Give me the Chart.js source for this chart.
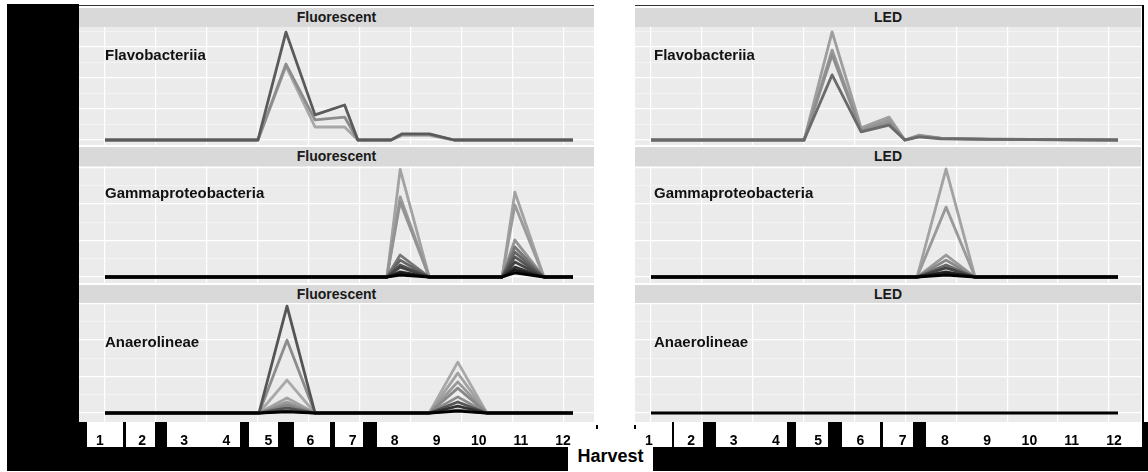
<!DOCTYPE html>
<html lang="en">
<head>
<meta charset="UTF-8">
<title>Harvest profiles</title>
<script src="https://cdn.jsdelivr.net/npm/chart.js"></script>
<style>
  body { margin: 0; width: 1148px; height: 472px; background: #fff; position: relative; overflow: hidden;
         font-family: "Liberation Sans", Arial, sans-serif; }
  .blk { position: absolute; background: #000; }
  .wht { position: absolute; background: #fff; }
  .strip { position: absolute; background: #d9d9d9; color: #1a1a1a; font-weight: bold; font-size: 14px;
           text-align: center; }
  .tag { position: absolute; font-weight: bold; font-size: 15px; line-height: 16px; color: #111; white-space: nowrap; }
  .panel { position: absolute; }
</style>
</head>
<body>
<script>
  // ---- data: sampling day (x) and relative abundance (y), one array per OTU line ----
  const harvests = [1, 2, 3, 4, 5, 6, 7, 8, 9, 10, 11, 12];

  const flFlavoDays = [0, 30, 35.5, 41.2, 47, 49.6, 56.1, 58.3, 63.6, 68.5, 91.8];
  const flFlavo = [
    [0, 0, 23.8, 4.2, 4.2, 0, 0, 1.5, 1.5, 0, 0],
    [0, 0, 24.5, 6.5, 7.4, 0, 0, 1.8, 1.8, 0, 0],
    [0, 0, 34.8, 8.1, 11.3, 0, 0, 2.0, 2.0, 0, 0]
  ];

  const ledFlavoDays = [0, 30.1, 35.6, 41.3, 46.8, 49.9, 52.7, 57, 66.4, 91.8];
  const ledFlavo = [
    [0, 0, 34.9, 3.9, 7.4, 0, 1.6, 0.6, 0.3, 0],
    [0, 0, 29.0, 3.2, 6.5, 0, 1.4, 0.5, 0.3, 0],
    [0, 0, 27.4, 2.9, 5.5, 0, 1.2, 0.5, 0.2, 0],
    [0, 0, 21.0, 2.6, 4.8, 0, 1.0, 0.4, 0.2, 0]
  ];

  const flGammaDays = [0, 55.3, 57.9, 63.6, 77.9, 80.4, 86.1, 91.8];
  const flGamma = [
    [0, 0, 29.4, 0, 0, 23.2, 0, 0],
    [0, 0, 21.9, 0, 0, 19.7, 0, 0],
    [0, 0, 20.5, 0, 0, 10.1, 0, 0],
    [0, 0, 6.0, 0, 0, 8.2, 0, 0],
    [0, 0, 4.6, 0, 0, 6.8, 0, 0],
    [0, 0, 3.3, 0, 0, 5.5, 0, 0],
    [0, 0, 2.7, 0, 0, 4.1, 0, 0],
    [0, 0, 1.4, 0, 0, 2.7, 0, 0],
    [0, 0, 1.1, 0, 0, 1.9, 0, 0],
    [0, 0, 0.5, 0, 0, 1.1, 0, 0]
  ];

  const ledGammaDays = [0, 52.3, 58, 63.7, 91.8];
  const ledGamma = [
    [0, 0, 29.5, 0, 0],
    [0, 0, 19.1, 0, 0],
    [0, 0, 6.0, 0, 0],
    [0, 0, 4.6, 0, 0],
    [0, 0, 3.3, 0, 0],
    [0, 0, 2.5, 0, 0],
    [0, 0, 1.4, 0, 0],
    [0, 0, 1.1, 0, 0],
    [0, 0, 0.5, 0, 0]
  ];

  const flAnaeroDays = [0, 30.2, 35.7, 41.2, 63.6, 69.2, 74.9, 91.8];
  const flAnaero = [
    [0, 0, 9.0, 0, 0, 13.9, 0, 0],
    [0, 0, 4.1, 0, 0, 10.9, 0, 0],
    [0, 0, 19.9, 0, 0, 4.4, 0, 0],
    [0, 0, 3.0, 0, 0, 8.5, 0, 0],
    [0, 0, 2.2, 0, 0, 6.8, 0, 0],
    [0, 0, 29.2, 0, 0, 0.8, 0, 0],
    [0, 0, 1.4, 0, 0, 3.0, 0, 0],
    [0, 0, 0.6, 0, 0, 1.9, 0, 0],
    [0, 0, 0.3, 0, 0, 0.5, 0, 0]
  ];

  const ledAnaeroDays = [0, 91.8];
  const ledAnaero = [
    [0, 0]
  ];

  // ---- styling / layout ----
  const FONT = '"Liberation Sans", Arial, sans-serif';

  const panelBg = {
    id: 'panelBg',
    beforeDraw(chart) {
      const { ctx, chartArea: a } = chart;
      ctx.save();
      ctx.fillStyle = '#ebebeb';
      ctx.fillRect(a.left, a.top, a.width, a.height);
      ctx.restore();
    }
  };

  function gridTicks(min, max, step) {
    const out = [];
    for (let v = Math.ceil(min / step) * step; v <= max; v += step) out.push({ value: v });
    return out;
  }

  const LEFT = { left: 79, width: 515, xMin: -5.1, xMax: 95.92, hMin: 0.501, hMax: 12.737 };
  const RIGHT = { left: 635, width: 506, xMin: -3.145, xMax: 96.32, hMin: 0.669, hMax: 12.64 };
  const ROWS = [
    { top: 27, height: 118, yMin: -1.61, yMax: 36.45, stripTop: 8, stripH: 19, tagY: 55 },
    { top: 166, height: 117, yMin: -1.64, yMax: 30.33, stripTop: 147, stripH: 19, tagY: 193 },
    { top: 303, height: 119, yMin: -2.46, yMax: 30.05, stripTop: 285, stripH: 18, tagY: 342 }
  ];

  const panels = [
    { col: LEFT, row: 0, strip: 'Fluorescent', tag: 'Flavobacteriia', days: flFlavoDays, series: flFlavo,
      shades: ['#a8a8a8', '#8c8c8c', '#5a5a5a'] },
    { col: RIGHT, row: 0, strip: 'LED', tag: 'Flavobacteriia', days: ledFlavoDays, series: ledFlavo,
      shades: ['#9e9e9e', '#979797', '#8e8e8e', '#6a6a6a'] },
    { col: LEFT, row: 1, strip: 'Fluorescent', tag: 'Gammaproteobacteria', days: flGammaDays, series: flGamma,
      shades: ['#a2a2a2', '#9a9a9a', '#939393', '#777', '#666', '#555', '#444', '#333', '#1a1a1a', '#000'] },
    { col: RIGHT, row: 1, strip: 'LED', tag: 'Gammaproteobacteria', days: ledGammaDays, series: ledGamma,
      shades: ['#a2a2a2', '#999', '#999', '#888', '#666', '#444', '#333', '#1a1a1a', '#000'] },
    { col: LEFT, row: 2, strip: 'Fluorescent', tag: 'Anaerolineae', days: flAnaeroDays, series: flAnaero,
      shades: ['#a8a8a8', '#a2a2a2', '#8c8c8c', '#999', '#888', '#555', '#555', '#333', '#000'], harvest: true },
    { col: RIGHT, row: 2, strip: 'LED', tag: 'Anaerolineae', days: ledAnaeroDays, series: ledAnaero,
      shades: ['#000'], harvest: true }
  ];

  function box(cls, x, y, w, h, extra) {
    const d = document.createElement('div');
    d.className = cls;
    d.style.cssText = `left:${x}px;top:${y}px;width:${w}px;height:${h}px;` + (extra || '');
    document.body.appendChild(d);
    return d;
  }

  // masking frame around the figure
  box('blk', 7, 4, 72, 467);
  box('blk', 7, 422, 1141, 49);
  box('blk', 79, 5, 515, 1, 'background:#333');
  box('blk', 635, 5, 509, 1, 'background:#333');
  box('blk', 1142, 5, 2, 442);
  box('wht', 87, 422, 1055, 25);
  [[123, 126], [155, 167], [240, 249], [278, 294], [330, 335], [363, 377],
   [672, 674], [703, 716], [787, 796], [828, 842], [880, 883], [913, 926]]
    .forEach(([a, b]) => box('blk', a, 422, b - a, 25));
  box('blk', 596, 425, 2, 4);
  box('blk', 634, 425, 2, 4);
  const hv = box('wht', 568, 445, 85, 27, 'font-weight:bold;font-size:18px;line-height:22px;text-align:center;color:#000;');
  hv.textContent = 'Harvest';

  panels.forEach(p => {
    const row = ROWS[p.row], col = p.col;
    const s = box('strip', col.left, row.stripTop, col.width, row.stripH, `line-height:${row.stripH}px;`);
    s.textContent = p.strip;

    const extra = p.harvest ? 26 : 0;
    const wrap = box('panel', col.left, row.top, col.width, row.height + extra);
    const cv = document.createElement('canvas');
    wrap.appendChild(cv);

    const scales = {
      x: {
        type: 'linear', min: col.xMin, max: col.xMax,
        ticks: { display: false }, border: { display: false },
        grid: { drawTicks: false, color: '#ffffff', lineWidth: 1.2 },
        afterBuildTicks: sc => { sc.ticks = gridTicks(col.xMin, col.xMax, 10); }
      },
      y: {
        type: 'linear', min: row.yMin, max: row.yMax,
        ticks: { display: false }, border: { display: false },
        grid: {
          drawTicks: false,
          color: c => (c.tick && c.tick.value % 10 === 0) ? '#ffffff' : '#f6f6f6',
          lineWidth: c => (c.tick && c.tick.value % 10 === 0) ? 1.2 : 0.8
        },
        afterBuildTicks: sc => { sc.ticks = gridTicks(row.yMin, row.yMax, 5); }
      }
    };
    if (p.harvest) {
      scales.h = {
        type: 'linear', position: 'bottom', min: col.hMin, max: col.hMax,
        grid: { display: false }, border: { display: false },
        ticks: { color: '#000', padding: 3, maxRotation: 0, autoSkip: false,
                 font: { family: FONT, size: 14, weight: 'bold' } },
        afterBuildTicks: sc => { sc.ticks = harvests.map(v => ({ value: v })); },
        afterFit: sc => { sc.height = extra; }
      };
    }

    const n = p.series.length;
    new Chart(cv, {
      type: 'line',
      data: {
        datasets: p.series.map((vals, i) => ({
          data: vals.map((v, j) => ({ x: p.days[j], y: v })),
          borderColor: p.shades[i],
          borderWidth: 2.8,
          pointRadius: 0,
          tension: 0,
          fill: false,
          order: n - 1 - i,
          borderJoinStyle: 'round',
          borderCapStyle: 'butt'
        }))
      },
      options: {
        responsive: true,
        maintainAspectRatio: false,
        animation: false,
        layout: { padding: 0 },
        scales,
        plugins: { legend: { display: false }, tooltip: { enabled: false }, title: { display: false } }
      },
      plugins: [panelBg]
    });

    const t = box('tag', col === LEFT ? 105 : 654, row.tagY - 8, 200, 16);
    t.textContent = p.tag;
  });
</script>
</body>
</html>
